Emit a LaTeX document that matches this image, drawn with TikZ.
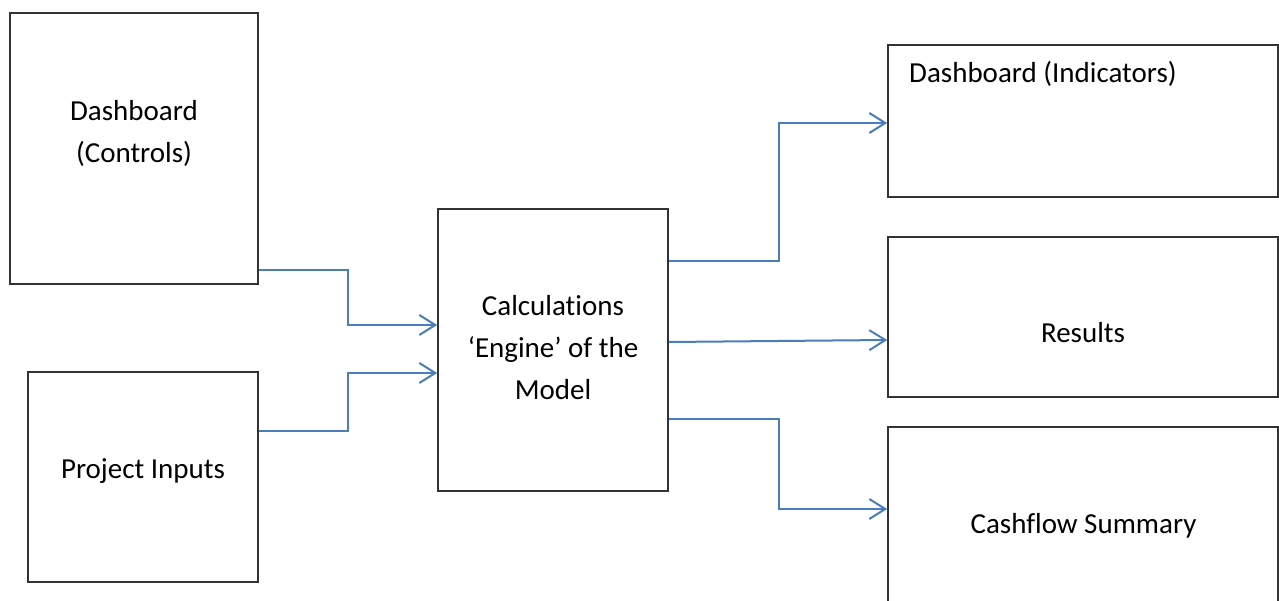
\documentclass[tikz,border=0pt]{standalone}
\usepackage{fontspec}
\setmainfont[Ligatures=NoCommon]{Carlito}
\usetikzlibrary{arrows.meta}
\definecolor{conncol}{HTML}{4A7EBB}
\definecolor{boxcol}{HTML}{333333}
\tikzset{
  box/.style={draw=boxcol, line width=1.6pt, inner sep=0pt, fill=white},
  lbl/.style={inner sep=0pt, font=\fontsize{29}{42}\selectfont, align=center, anchor=base},
  conn/.style={draw=conncol, line width=2pt, -{Straight Barb[length=16pt, width=20pt, line width=2pt]}}
}
\begin{document}
\begin{tikzpicture}[x=1pt, y=-1pt]
\useasboundingbox (0,0) rectangle (1279,601);
\clip (0,0) rectangle (1279,601);
% boxes
\node[box, minimum width=248pt, minimum height=271pt] (ctrl) at (134,148.5) {};
\node[box, minimum width=230pt, minimum height=210pt] (inp) at (143,477) {};
\node[box, minimum width=230pt, minimum height=282pt] (calc) at (553,350) {};
\node[box, minimum width=390pt, minimum height=152pt] (ind) at (1083,121) {};
\node[box, minimum width=390pt, minimum height=160pt] (res) at (1083,317) {};
\node[box, minimum width=390pt, minimum height=193pt] (cash) at (1083,523.5) {};
% texts (base = baseline of last line)
\node[lbl] (tctrl) at (134,163) {Dashboard\\(Controls)};
\node[lbl] (tinp) at (143,478) {Project Inputs};
\node[lbl] (tcalc) at (553,399) {Calculations\\‘Engine’ of the\\Model};
\node[lbl, anchor=base west] (tind) at (909,83) {Dashboard (Indicators)};
\node[lbl] (tres) at (1083,343) {Results};
\node[lbl] (tcash) at (1083.5,533) {Cashflow Summary};
% connectors
\draw[conn] ([yshift=15pt]ctrl.south east) -- ++(89,0) |- ([yshift=25pt]calc.west);
\draw[conn] ([yshift=46pt]inp.east) -- ++(89,0) |- ([yshift=-23pt]calc.west);
\draw[conn] ([yshift=89pt]calc.east) -- ++(110,0) |- ([yshift=-2pt]ind.west);
\draw[conn] ([yshift=8pt]calc.east) -- ([yshift=-23pt]res.west);
\draw[conn] ([yshift=-69pt]calc.east) -- ++(110,0) |- ([yshift=14.5pt]cash.west);
\end{tikzpicture}
\end{document}
